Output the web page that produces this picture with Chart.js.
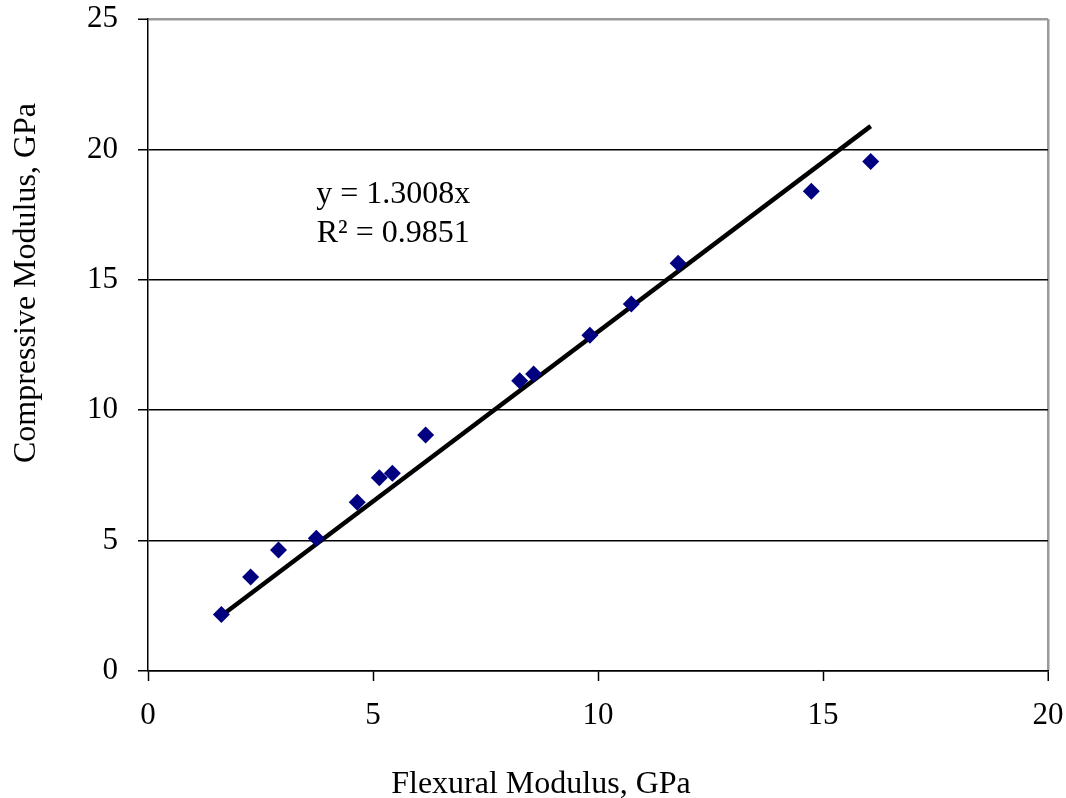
<!DOCTYPE html>
<html>
<head>
<meta charset="utf-8">
<script src="https://cdn.jsdelivr.net/npm/chart.js@4/dist/chart.umd.min.js"></script>
<style>
  html, body { margin: 0; padding: 0; background: #fff; }
  #wrap { width: 1066px; height: 798px; }
</style>
</head>
<body>
<div id="wrap"><canvas id="grafico" width="1066" height="798"></canvas></div>
<script>
// valores
const flexural = [1.63, 2.28, 2.90, 3.74, 4.65, 5.14, 5.43, 6.17, 8.26, 8.57, 9.82, 10.74, 11.78, 14.74, 16.06];
const compressive = [2.17, 3.60, 4.64, 5.09, 6.47, 7.41, 7.58, 9.05, 11.13, 11.39, 12.87, 14.07, 15.63, 18.40, 19.54];

const xTickValues = [0, 5, 10, 15, 20];
const yTickValues = [0, 5, 10, 15, 20, 25];

const slope = 1.3008; // linha de tendência y = 1.3008x
const eqLines = ['y = 1.3008x', 'R\u00B2 = 0.9851'];

const xTitle = 'Flexural Modulus, GPa';
const yTitle = 'Compressive Modulus, GPa';

const serif = "'Liberation Serif', 'Times New Roman', serif";

const pontos = flexural.map((x, i) => ({ x: x, y: compressive[i] }));
const xMin = Math.min(...flexural);
const xMax = Math.max(...flexural);
const tendencia = [xMin, xMax].map(x => ({ x: x, y: slope * x }));

// textos: títulos dos eixos e equação
const textos = {
    id: 'textos',
    afterDraw(chart) {
        const ctx = chart.ctx;
        const xs = chart.scales.x;
        ctx.save();
        ctx.fillStyle = '#000';
        ctx.font = '32px ' + serif;
        ctx.textAlign = 'center';
        ctx.textBaseline = 'alphabetic';

        // equação
        const ex = xs.getPixelForValue(5.45);
        ctx.fillText(eqLines[0], ex, 203);
        ctx.fillText(eqLines[1], ex, 242);

        // título X
        ctx.fillText(xTitle, 541, 793);

        // título Y
        ctx.translate(35, 283);
        ctx.rotate(-Math.PI / 2);
        ctx.fillText(yTitle, 0, 0);
        ctx.restore();
    }
};

const ctx = document.getElementById('grafico').getContext('2d');

new Chart(ctx, {
    type: 'scatter',
    data: {
        datasets: [
            {
                type: 'line',
                data: tendencia,
                borderColor: '#000',
                borderWidth: 4.5,
                pointRadius: 0,
                fill: false,
                order: 2
            },
            {
                data: pontos,
                pointStyle: 'rectRot',
                pointRadius: 8.5,
                pointBackgroundColor: '#000080',
                pointBorderColor: '#000080',
                pointBorderWidth: 0,
                order: 1
            }
        ]
    },
    options: {
        responsive: false,
        animation: false,
        layout: {
            padding: { left: 0, right: 18, top: 19, bottom: 0 }
        },
        scales: {
            x: {
                type: 'linear',
                min: 0,
                max: 20,
                afterBuildTicks: s => { s.ticks = xTickValues.map(v => ({ value: v })); },
                afterFit: s => {
                    s.height = 127;
                    s.paddingLeft = 0;
                    s.paddingRight = 0;
                },
                grid: {
                    drawOnChartArea: true,
                    color: c => (c.tick && c.tick.value === 20) ? '#9a9a9a' : 'rgba(0,0,0,0)',
                    lineWidth: c => (c.tick && c.tick.value === 20) ? 2.5 : 1,
                    tickColor: '#000',
                    tickLength: 10,
                    tickWidth: 1.5
                },
                border: { color: '#000', width: 1.5 },
                ticks: {
                    color: '#000',
                    font: { family: serif, size: 31 },
                    padding: 16,
                    maxRotation: 0
                }
            },
            y: {
                type: 'linear',
                min: 0,
                max: 25,
                afterBuildTicks: s => { s.ticks = yTickValues.map(v => ({ value: v })); },
                afterFit: s => {
                    s.width = 148;
                    s.paddingTop = 0;
                    s.paddingBottom = 0;
                },
                grid: {
                    color: c => (c.tick && c.tick.value === 25) ? '#9a9a9a' : '#000',
                    lineWidth: c => (c.tick && c.tick.value === 25) ? 2.5 : 1.5,
                    tickColor: '#000',
                    tickLength: 10,
                    tickWidth: 1.5
                },
                border: { color: '#000', width: 1.5 },
                ticks: {
                    color: '#000',
                    font: { family: serif, size: 31 },
                    padding: 20
                }
            }
        },
        plugins: {
            legend: { display: false },
            tooltip: { enabled: false }
        }
    },
    plugins: [textos]
});
</script>
</body>
</html>
